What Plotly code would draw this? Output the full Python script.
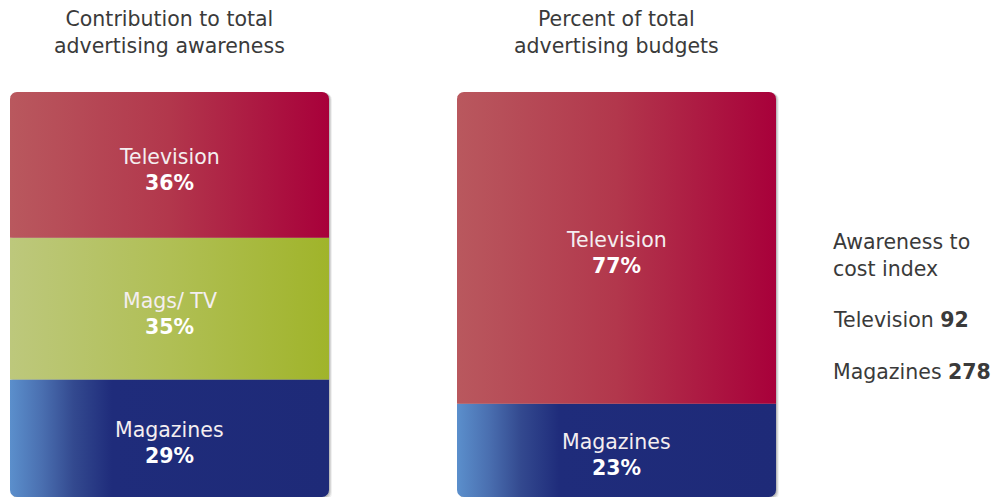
import math
import plotly.graph_objects as go

# ---- data -------------------------------------------------------------
panel_titles = ["Contribution to total<br>advertising awareness",
                "Percent of total<br>advertising budgets"]

# segments listed bottom -> top
awareness_labels = ["Magazines", "Mags/ TV", "Television"]
awareness_values = [29, 35, 36]

budget_labels = ["Magazines", "Television"]
budget_values = [23, 77]

index_labels = ["Television", "Magazines"]
index_values = [92, 278]
index_heading = "Awareness to<br>cost index"

# ---- style ------------------------------------------------------------
W, H = 993, 499
M_L, M_R, M_T, M_B = 0, 0, 92, 2
PX_PER_X = 447.0           # pixels between the two bar centres
BAR_W = 319 / PX_PER_X     # bar width in x units
X0_PX = 169.5              # pixel of first bar centre
PLOT_H = H - M_T - M_B
PX_PER_Y = PLOT_H / 100.0
RADIUS_PX = 7

FONT = "DejaVu Sans"
FS = 20.5
TEXT_COL = "#3a3a3a"

gradients = {
    "Television": [[0, "#b9585e"], [0.5, "#b2374c"], [1, "#a8003a"]],
    "Mags/ TV":   [[0, "#bdc87c"], [0.5, "#b0bf55"], [1, "#a0b42a"]],
    "Magazines":  [[0, "#5b8fcc"], [0.1, "#4a6fb0"], [0.2, "#33498f"],
                   [0.32, "#1f2c7b"], [1, "#1e2a78"]],
}


def rounded_box(x0, x1, y0, y1, round_bottom, round_top, n=8):
    """Polygon for a rectangle whose top and/or bottom corners are rounded."""
    rx = RADIUS_PX / PX_PER_X
    ry = RADIUS_PX / PX_PER_Y
    xs, ys = [], []

    def arc(cx, cy, a0, a1):
        for i in range(n + 1):
            a = a0 + (a1 - a0) * i / n
            xs.append(cx + rx * math.cos(a))
            ys.append(cy + ry * math.sin(a))

    # bottom-left -> bottom-right
    if round_bottom:
        arc(x0 + rx, y0 + ry, math.pi, 1.5 * math.pi)
        arc(x1 - rx, y0 + ry, 1.5 * math.pi, 2 * math.pi)
    else:
        xs += [x0, x1]; ys += [y0, y0]
    # top-right -> top-left
    if round_top:
        arc(x1 - rx, y1 - ry, 0, 0.5 * math.pi)
        arc(x0 + rx, y1 - ry, 0.5 * math.pi, math.pi)
    else:
        xs += [x1, x0]; ys += [y1, y1]
    xs.append(xs[0]); ys.append(ys[0])
    return xs, ys


fig = go.Figure()
annotations = []

panels = [(awareness_labels, awareness_values), (budget_labels, budget_values)]

for i, (labels, values) in enumerate(panels):
    cx = float(i)
    x0, x1 = cx - BAR_W / 2, cx + BAR_W / 2
    total = sum(values)

    # soft drop shadow behind the whole bar
    for off, col in [(3, "rgba(0,0,0,0.06)"), (2, "rgba(0,0,0,0.10)"), (1, "rgba(0,0,0,0.12)")]:
        dx = off / PX_PER_X
        dy = off / PX_PER_Y
        sx, sy = rounded_box(x0 + dx, x1 + dx, 0 - dy, 100 - dy * 0.3, True, True)
        fig.add_trace(go.Scatter(x=sx, y=sy, mode="lines", fill="toself",
                                 fillcolor=col, line=dict(width=0),
                                 hoverinfo="skip", showlegend=False))

    base = 0.0
    for j, (lab, val) in enumerate(zip(labels, values)):
        y0 = base / total * 100
        y1 = (base + val) / total * 100
        xs, ys = rounded_box(x0, x1, y0, y1, j == 0, j == len(values) - 1)
        fig.add_trace(go.Scatter(
            x=xs, y=ys, mode="lines", fill="toself",
            line=dict(width=0),
            fillgradient=dict(type="horizontal", colorscale=gradients[lab]),
            hoverinfo="skip", showlegend=False,
        ))
        ym = (y0 + y1) / 2
        annotations.append(dict(x=cx, y=ym, xref="x", yref="y", text=lab,
                                showarrow=False, yshift=8,
                                font=dict(family=FONT, size=FS, color="#f4eef0")))
        annotations.append(dict(x=cx, y=ym, xref="x", yref="y", text=f"<b>{val}%</b>",
                                showarrow=False, yshift=-18,
                                font=dict(family=FONT, size=FS, color="white")))
        base += val

    annotations.append(dict(x=cx, y=(H - M_B - 32) / PLOT_H, xref="x", yref="paper",
                            text=panel_titles[i], showarrow=False,
                            yanchor="middle", align="center",
                            font=dict(family=FONT, size=FS, color=TEXT_COL)))


def paper_y(px):
    return (H - M_B - px) / PLOT_H


note_x = 831 / W
annotations.append(dict(x=note_x, y=paper_y(255), xref="paper", yref="paper",
                        text=index_heading, showarrow=False, xanchor="left",
                        yanchor="middle", align="left",
                        font=dict(family=FONT, size=FS, color=TEXT_COL)))
for k, (lab, val) in enumerate(zip(index_labels, index_values)):
    annotations.append(dict(x=note_x, y=paper_y(320 + 52 * k), xref="paper", yref="paper",
                            text=f"{lab} <b>{val}</b>", showarrow=False,
                            xanchor="left", yanchor="middle", align="left",
                            font=dict(family=FONT, size=FS, color=TEXT_COL)))

fig.update_layout(
    width=W, height=H,
    margin=dict(l=M_L, r=M_R, t=M_T, b=M_B),
    paper_bgcolor="white", plot_bgcolor="white",
    xaxis=dict(range=[-X0_PX / PX_PER_X, (W - X0_PX) / PX_PER_X], visible=False, fixedrange=True),
    yaxis=dict(range=[0, 100], visible=False, fixedrange=True),
    annotations=annotations,
    showlegend=False,
)

fig.write_html("out.html")
